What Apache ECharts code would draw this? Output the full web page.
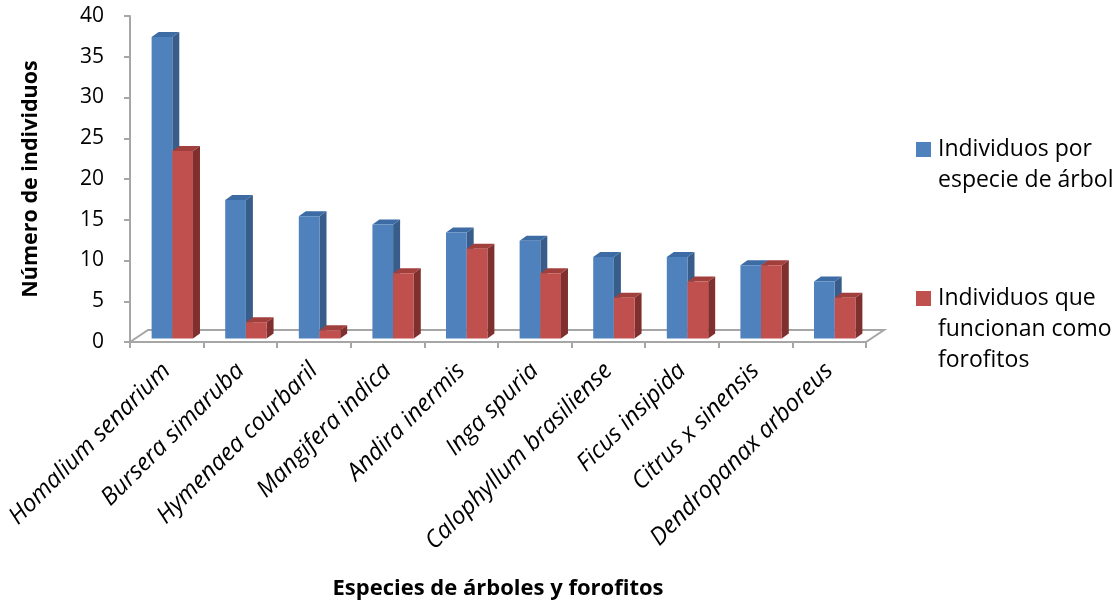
<!DOCTYPE html>
<html>
<head>
<meta charset="utf-8">
<script src="https://cdn.jsdelivr.net/npm/echarts@6/dist/echarts.min.js"></script>
<style>
  html, body { margin: 0; padding: 0; background: #fff; }
  #chart { width: 1120px; height: 603px; }
</style>
</head>
<body>
<div id="chart"></div>
<script>
// Tree species and counts
const species = [
  'Homalium senarium', 'Bursera simaruba', 'Hymenaea courbaril', 'Mangifera indica',
  'Andira inermis', 'Inga spuria', 'Calophyllum brasiliense', 'Ficus insipida',
  'Citrus x sinensis', 'Dendropanax arboreus'
];
const individuosPorEspecie = [37, 17, 15, 14, 13, 12, 10, 10, 9, 7];
const individuosForofitos = [23, 2, 1, 8, 11, 8, 5, 7, 9, 5];
const seriesNames = ['Individuos por\nespecie de árbol', 'Individuos que\nfuncionan como\nforofitos'];
const yTicks = { min: 0, max: 40, interval: 5 };

const FONT = '"Open Sans", "Noto Sans", sans-serif';
const AXIS_GRAY = '#a6a6a6';

// Faces of the pseudo-3D columns: front, side, top
const palettes = [
  { front: '#4f81bd', side: '#385d8a', top: '#3d6ca4' },
  { front: '#c0504d', side: '#7f302e', top: '#a13f3c' }
];

// Columns sit a little behind the front edge of the floor
const PLANE = [5.5, -3.5];
// Depth of each column
const DEPTH = [7, -5];
// Depth of the floor
const FLOOR = [18, -12];
// Fraction of a category band taken by one column
const BAR_FRAC = 0.281;

function columnRenderer(seriesIdx) {
  return function (params, api) {
    const idx = api.value(0);
    const v = api.value(1);
    const base = api.coord([idx, 0]);
    const top = api.coord([idx, v]);
    const band = api.size([1, 0])[0];
    const w = band * BAR_FRAC;
    const x0 = base[0] - w + seriesIdx * w + PLANE[0];
    const x1 = x0 + w;
    const yb = base[1] + PLANE[1];
    const yt = top[1] + PLANE[1];
    const pal = palettes[seriesIdx];
    return {
      type: 'group',
      children: [
        {
          type: 'polygon',
          shape: { points: [[x1, yt], [x1 + DEPTH[0], yt + DEPTH[1]], [x1 + DEPTH[0], yb + DEPTH[1]], [x1, yb]] },
          style: { fill: pal.side }
        },
        {
          type: 'polygon',
          shape: { points: [[x0, yt], [x0 + DEPTH[0], yt + DEPTH[1]], [x1 + DEPTH[0], yt + DEPTH[1]], [x1, yt]] },
          style: { fill: pal.top }
        },
        {
          type: 'rect',
          shape: { x: x0, y: yt, width: w, height: yb - yt },
          style: { fill: pal.front }
        }
      ]
    };
  };
}

function floorRenderer(params, api) {
  const cs = params.coordSys;
  const left = api.coord([0, 0]);
  const band = api.size([1, 0])[0];
  const xl = left[0] - band / 2;
  const xr = cs.x + cs.width;
  const y = left[1];
  return {
    type: 'polygon',
    shape: { points: [[xl, y], [xl + FLOOR[0], y + FLOOR[1]], [xr + FLOOR[0], y + FLOOR[1]], [xr, y]] },
    style: { fill: '#ffffff', stroke: AXIS_GRAY, lineWidth: 2 }
  };
}

const chart = echarts.init(document.getElementById('chart'), null, { renderer: 'canvas' });

const option = {
  animation: false,
  backgroundColor: '#ffffff',
  grid: { left: 130, right: 254, top: 16, bottom: 261, containLabel: false, outerBoundsMode: 'none' },
  xAxis: {
    type: 'category',
    data: species,
    boundaryGap: true,
    name: 'Especies de árboles y forofitos',
    nameLocation: 'middle',
    nameGap: 236,
    nameTextStyle: { fontFamily: FONT, fontWeight: 'bold', fontSize: 22, color: '#000' },
    axisLine: { show: true, lineStyle: { color: AXIS_GRAY, width: 2 } },
    axisTick: { show: true, length: 6, lineStyle: { color: AXIS_GRAY, width: 2 } },
    axisLabel: {
      interval: 0,
      rotate: 45,
      margin: 25,
      fontFamily: FONT,
      fontStyle: 'italic',
      fontSize: 24,
      color: '#000'
    },
    splitLine: { show: false }
  },
  yAxis: {
    type: 'value',
    min: yTicks.min,
    max: yTicks.max,
    interval: yTicks.interval,
    name: 'Número de individuos',
    nameLocation: 'middle',
    nameGap: 88,
    nameRotate: 90,
    nameTextStyle: { fontFamily: FONT, fontWeight: 'bold', fontSize: 21.5, color: '#000' },
    axisLine: { show: true, lineStyle: { color: AXIS_GRAY, width: 2 } },
    axisTick: { show: true, length: 6, lineStyle: { color: AXIS_GRAY, width: 2 } },
    axisLabel: { margin: 26, fontFamily: FONT, fontSize: 21, color: '#000' },
    splitLine: { show: false }
  },
  series: [
    {
      type: 'custom',
      name: 'floor',
      renderItem: floorRenderer,
      data: [[0, 0]],
      z: 1,
      silent: true
    },
    {
      type: 'custom',
      name: seriesNames[0],
      renderItem: columnRenderer(0),
      data: individuosPorEspecie.map((v, i) => [i, v]),
      encode: { x: 0, y: 1 },
      z: 3
    },
    {
      type: 'custom',
      name: seriesNames[1],
      renderItem: columnRenderer(1),
      data: individuosForofitos.map((v, i) => [i, v]),
      encode: { x: 0, y: 1 },
      z: 4
    }
  ],
  graphic: [
    {
      type: 'group',
      left: 916,
      top: 134,
      children: [
        { type: 'rect', shape: { x: 0, y: 8, width: 15, height: 15 }, style: { fill: palettes[0].front } },
        {
          type: 'text', x: 22, y: 0,
          style: { text: seriesNames[0], font: '23px ' + FONT, lineHeight: 31, fill: '#000', verticalAlign: 'top' }
        },
        { type: 'rect', shape: { x: 0, y: 157, width: 15, height: 15 }, style: { fill: palettes[1].front } },
        {
          type: 'text', x: 22, y: 149,
          style: { text: seriesNames[1], font: '23px ' + FONT, lineHeight: 31, fill: '#000', verticalAlign: 'top' }
        }
      ]
    }
  ]
};

chart.setOption(option);
</script>
</body>
</html>
